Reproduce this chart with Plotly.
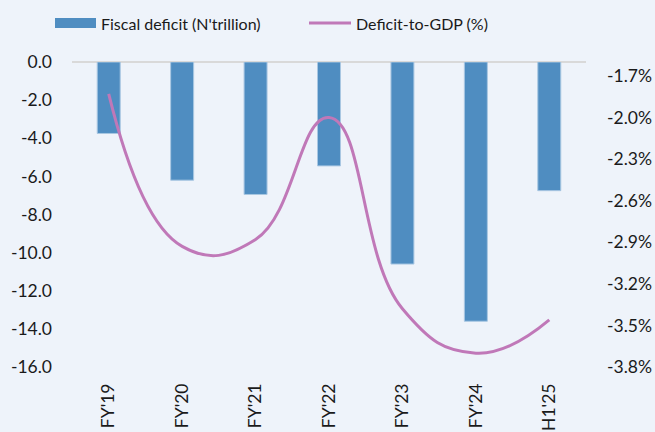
import plotly.graph_objects as go

# Nigeria fiscal deficit and deficit-to-GDP ratio
periods = ["FY'19", "FY'20", "FY'21", "FY'22", "FY'23", "FY'24", "H1'25"]
fiscal_deficit = [-3.75, -6.2, -6.95, -5.45, -10.6, -13.6, -6.75]   # N'trillion
deficit_to_gdp = [-1.83, -2.93, -2.88, -2.0, -3.38, -3.70, -3.46]   # %

left_ticks = [0, -2, -4, -6, -8, -10, -12, -14, -16]
right_ticks = [-3.8, -3.5, -3.2, -2.9, -2.6, -2.3, -2.0, -1.7]

W, H = 655, 432
ML, MR, MT, MB = 72, 69, 62, 65
PW, PH = W - ML - MR, H - MT - MB

BAR_BLUE = "#4F8DC1"
LINE_PINK = "#C078B8"
BG = "#EEF3FA"
FONT = "Lato, 'Open Sans', sans-serif"
TICK_SIZE = 17.5
LEGEND_SIZE = 16


def px_x(px):
    return (px - ML) / PW


def px_y(py):
    return (H - MB - py) / PH


fig = go.Figure()

fig.add_trace(go.Bar(
    x=periods, y=fiscal_deficit, name="Fiscal deficit (N'trillion)",
    marker=dict(color=BAR_BLUE, line=dict(color="#A9C7E2", width=1)),
    yaxis="y",
))

fig.add_trace(go.Scatter(
    x=periods, y=deficit_to_gdp, name="Deficit-to-GDP (%)",
    mode="lines", line=dict(color=LINE_PINK, width=3, shape="spline", smoothing=1.3),
    yaxis="y2",
))

# legend drawn by hand: wide swatch for the bars, short line for the ratio
shapes = [
    dict(type="line", xref="paper", yref="paper", x0=0, x1=1, y0=1, y1=1,
         line=dict(color="#D9D9D9", width=2), layer="below"),
    dict(type="rect", xref="paper", yref="paper",
         x0=px_x(55), x1=px_x(96), y0=px_y(28), y1=px_y(18),
         fillcolor=BAR_BLUE, line=dict(width=0)),
    dict(type="line", xref="paper", yref="paper",
         x0=px_x(309), x1=px_x(351), y0=px_y(23), y1=px_y(23),
         line=dict(color=LINE_PINK, width=3)),
]
annotations = [
    dict(text="Fiscal deficit (N'trillion)", xref="paper", yref="paper",
         x=px_x(99), y=px_y(23), xanchor="left", yanchor="middle", showarrow=False,
         font=dict(size=LEGEND_SIZE, color="#1a1a1a", family=FONT)),
    dict(text="Deficit-to-GDP (%)", xref="paper", yref="paper",
         x=px_x(354), y=px_y(23), xanchor="left", yanchor="middle", showarrow=False,
         font=dict(size=LEGEND_SIZE, color="#1a1a1a", family=FONT)),
]

fig.update_layout(
    width=W, height=H,
    margin=dict(l=ML, r=MR, t=MT, b=MB, pad=0, autoexpand=False),
    paper_bgcolor=BG, plot_bgcolor=BG,
    font=dict(family=FONT, size=TICK_SIZE, color="#1a1a1a"),
    showlegend=False,
    bargap=0.687,
    shapes=shapes,
    annotations=annotations,
    xaxis=dict(
        type="category", tickangle=-90, showgrid=False, zeroline=False,
        showline=False, ticks="", ticklabelstandoff=12, automargin=False,
        tickfont=dict(size=TICK_SIZE),
    ),
    yaxis=dict(
        range=[-16, 0], tickvals=left_ticks,
        ticktext=[f"{v:.1f}" for v in left_ticks],
        showgrid=False, zeroline=False, showline=False, ticks="",
        ticklabelstandoff=19, tickfont=dict(size=TICK_SIZE), automargin=False,
    ),
    yaxis2=dict(
        range=[-3.8, -1.6], overlaying="y", side="right",
        tickvals=right_ticks, ticktext=[f"{v:.1f}%" for v in right_ticks],
        showgrid=False, zeroline=False, showline=False, ticks="",
        ticklabelstandoff=20, tickfont=dict(size=TICK_SIZE), automargin=False,
    ),
)

fig.write_html("out.html")
